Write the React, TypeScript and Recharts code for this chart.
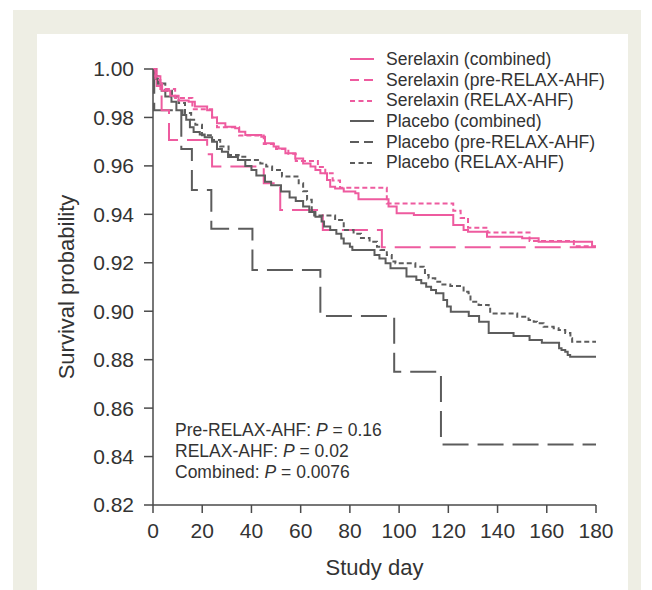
import React from 'react';
import { LineChart, Line, XAxis, YAxis } from 'recharts';

// ---- Data ----
const DAY_TICKS = [0, 20, 40, 60, 80, 100, 120, 140, 160, 180];
const PROB_TICKS = [0.82, 0.84, 0.86, 0.88, 0.9, 0.92, 0.94, 0.96, 0.98, 1.0];

const SERIES_NAMES = [
  'Serelaxin (combined)',
  'Serelaxin (pre-RELAX-AHF)',
  'Serelaxin (RELAX-AHF)',
  'Placebo (combined)',
  'Placebo (pre-RELAX-AHF)',
  'Placebo (RELAX-AHF)',
];

// [study day, survival probability]
const serelaxinCombined: [number, number][] = [
  [0, 1.0], [1, 0.997], [3, 0.994], [3.7, 0.991], [7, 0.989], [10.4, 0.987], [14.5, 0.9865],
  [17, 0.9845], [22, 0.983], [24, 0.98], [26, 0.9776], [29.4, 0.9762], [33.4, 0.9755],
  [35, 0.9741], [37.5, 0.9728], [44, 0.972], [45.5, 0.9693], [49, 0.968], [51, 0.9672],
  [53.8, 0.9652], [57.8, 0.963], [61, 0.961], [64, 0.9597], [66, 0.9583], [68, 0.957],
  [70.7, 0.9542], [72, 0.9514], [74, 0.9507], [77.5, 0.9494], [82.2, 0.9487], [83.5, 0.9462],
  [94.4, 0.9462], [95.7, 0.9432], [99, 0.9404], [106, 0.9397], [122, 0.9356], [126.2, 0.9335],
  [128, 0.9328], [135.7, 0.9307], [150, 0.9301], [156.7, 0.9287], [178.4, 0.9266], [180, 0.9266],
];

const serelaxinPre: [number, number][] = [
  [0, 1.0], [1.5, 0.993], [3.5, 0.983], [6.5, 0.9707], [22, 0.9648], [24, 0.9597],
  [45, 0.9528], [51.7, 0.9418], [69, 0.9335], [93, 0.9264], [180, 0.9264],
];

const serelaxinRelax: [number, number][] = [
  [0, 1.0], [1, 0.9955], [3, 0.9917], [9, 0.988], [16, 0.9834], [24, 0.98], [26, 0.976],
  [35, 0.9725], [45, 0.969], [50, 0.967], [55, 0.965], [58, 0.962], [67, 0.9595], [70, 0.957],
  [73, 0.954], [76, 0.951], [95, 0.9445], [122, 0.9415], [125, 0.9385], [128, 0.9345],
  [136, 0.9325], [153, 0.929], [171, 0.9268], [180, 0.9268],
];

const placeboCombined: [number, number][] = [
  [0, 1.0], [0.8, 0.996], [2, 0.994], [3.5, 0.991], [5, 0.9886], [7.5, 0.9865], [9.5, 0.983],
  [12, 0.981], [13.5, 0.979], [15, 0.976], [16.5, 0.974], [19, 0.973], [21, 0.9718], [24, 0.97],
  [26, 0.967], [28, 0.9658], [30.5, 0.9637], [34.5, 0.9624], [37.5, 0.96], [40, 0.9583],
  [42, 0.956], [45.5, 0.9535], [48, 0.952], [52, 0.9494], [55.5, 0.947], [58, 0.9455],
  [61, 0.9432], [63.5, 0.941], [66, 0.939], [68.5, 0.937], [69.5, 0.935], [72, 0.9335],
  [74.5, 0.932], [76.5, 0.93], [77.5, 0.928], [80, 0.9266], [81, 0.9253], [90, 0.9232],
  [92, 0.9218], [94.5, 0.9198], [96.5, 0.9177], [103, 0.9143], [107, 0.9129], [109, 0.9115],
  [111, 0.9101], [113, 0.9088], [115, 0.9074], [118, 0.9046], [119.5, 0.9019], [121, 0.8998],
  [128.3, 0.898], [132.5, 0.8957], [136.4, 0.891], [146.5, 0.8898], [153, 0.8881], [158, 0.887],
  [165, 0.8847], [166, 0.884], [167.5, 0.8833], [168.5, 0.8819], [169.5, 0.8812], [180, 0.8812],
];

const placeboPre: [number, number][] = [
  [0, 1.0], [0.5, 0.983], [11.5, 0.967], [15.8, 0.95], [23.7, 0.934], [40.4, 0.917],
  [68, 0.898], [98, 0.875], [117, 0.845], [180, 0.845],
];

const placeboRelax: [number, number][] = [
  [0, 1.0], [1, 0.997], [2.3, 0.994], [5, 0.991], [7.7, 0.9886], [10.4, 0.986], [13, 0.9818],
  [15.5, 0.979], [17.2, 0.977], [19.9, 0.9727], [24, 0.9707], [27.3, 0.968], [30.7, 0.9645],
  [34.8, 0.9638], [37.5, 0.9624], [43.6, 0.961], [46, 0.9597], [48.4, 0.9583], [52.4, 0.9556],
  [59.2, 0.9528], [61, 0.9495], [62.6, 0.946], [64.5, 0.9418], [65.5, 0.9395], [74, 0.9377],
  [77.5, 0.9335], [81.5, 0.932], [84.5, 0.9302], [88, 0.9287], [91, 0.9266], [92.4, 0.9253],
  [95, 0.9232], [97, 0.9205], [98.5, 0.9198], [106.6, 0.9184], [110, 0.9177], [110.5, 0.915],
  [112, 0.9136], [114.7, 0.9122], [116.7, 0.911], [120.8, 0.9104], [126.2, 0.908],
  [128.2, 0.9074], [129, 0.9039], [132.3, 0.9026], [136.4, 0.9019], [137, 0.8991],
  [148, 0.8977], [152.6, 0.8964], [154.7, 0.8957], [156, 0.895], [158.7, 0.8936],
  [162.8, 0.893], [164.8, 0.8922], [167.5, 0.891], [169.6, 0.8888], [170.3, 0.8874], [180, 0.8874],
];

const ANNOTATIONS = [
  { label: 'Pre-RELAX-AHF', p: '0.16' },
  { label: 'RELAX-AHF', p: '0.02' },
  { label: 'Combined', p: '0.0076' },
];

// ---- Styling ----
const PINK = '#ee5b9f';
const GRAY = '#5c5c5c';
const AXIS = '#4a4a4a';
const TEXT = '#333333';
const FONT = '"Liberation Sans", Arial, Helvetica, sans-serif';

const SOLID = undefined;
const LONG_DASH = '26 9';
const SHORT_DASH = '5 3';

const toData = (pts: [number, number][]) => pts.map(([d, v]) => ({ d, v }));

const SERIES = [
  { name: SERIES_NAMES[4], points: placeboPre, color: GRAY, dash: LONG_DASH, legendDash: '9 5' },
  { name: SERIES_NAMES[1], points: serelaxinPre, color: PINK, dash: LONG_DASH, legendDash: '9 5' },
  { name: SERIES_NAMES[5], points: placeboRelax, color: GRAY, dash: SHORT_DASH, legendDash: '5 3.5' },
  { name: SERIES_NAMES[3], points: placeboCombined, color: GRAY, dash: SOLID, legendDash: undefined },
  { name: SERIES_NAMES[2], points: serelaxinRelax, color: PINK, dash: SHORT_DASH, legendDash: '5 3.5' },
  { name: SERIES_NAMES[0], points: serelaxinCombined, color: PINK, dash: SOLID, legendDash: undefined },
];

const LEGEND_ORDER = [5, 1, 4, 3, 0, 2];

export default function App() {
  return (
    <div
      style={{
        position: 'absolute',
        left: 0,
        top: 0,
        width: 652,
        height: 590,
        background: '#ffffff',
        fontFamily: FONT,
        overflow: 'hidden',
      }}
    >
      <div style={{ position: 'absolute', left: 13, top: 10, width: 628, height: 580, background: '#eeeee4' }} />
      <div style={{ position: 'absolute', left: 37, top: 34, width: 591, height: 556, background: '#ffffff' }} />

      <div style={{ position: 'absolute', left: 0, top: 0 }}>
        <LineChart
          width={652}
          height={590}
          margin={{ top: 69, right: 56, bottom: 15, left: 53 }}
          style={{ fontFamily: FONT }}
        >
          <XAxis
            dataKey="d"
            type="number"
            domain={[0, 180]}
            ticks={DAY_TICKS}
            allowDuplicatedCategory={false}
            height={70}
            tickSize={8}
            tickMargin={10}
            stroke={AXIS}
            strokeWidth={1.5}
            tick={{ fontSize: 21, fill: TEXT }}
            label={{
              value: 'Study day',
              position: 'insideBottom',
              offset: 0,
              style: { fontSize: 22, fill: TEXT },
            }}
          />
          <YAxis
            dataKey="v"
            type="number"
            domain={[0.82, 1.0]}
            ticks={PROB_TICKS}
            width={100}
            tickSize={9}
            tickMargin={10}
            stroke={AXIS}
            strokeWidth={1.5}
            tickFormatter={(t: number) => t.toFixed(2)}
            tick={{ fontSize: 21, fill: TEXT }}
            label={{
              value: 'Survival probability',
              angle: -90,
              position: 'insideLeft',
              offset: 13,
              style: { fontSize: 22, fill: TEXT, textAnchor: 'middle' },
            }}
          />
          {SERIES.map((s) => (
            <Line
              key={s.name}
              name={s.name}
              data={toData(s.points)}
              dataKey="v"
              type="stepAfter"
              stroke={s.color}
              strokeWidth={2}
              strokeDasharray={s.dash}
              dot={false}
              activeDot={false}
              isAnimationActive={false}
            />
          ))}
        </LineChart>
      </div>

      {/* Legend */}
      <div style={{ position: 'absolute', left: 348, top: 49, fontSize: 17.5, color: TEXT }}>
        {LEGEND_ORDER.map((i) => {
          const s = SERIES[i];
          return (
            <div key={s.name} style={{ display: 'flex', alignItems: 'center', height: 20.7 }}>
              <svg width={28} height={20} style={{ marginRight: 10 }}>
                <line x1={2} y1={10} x2={26} y2={10} stroke={s.color} strokeWidth={2} strokeDasharray={s.legendDash} />
              </svg>
              <span style={{ whiteSpace: 'nowrap', lineHeight: '20.7px' }}>{s.name}</span>
            </div>
          );
        })}
      </div>

      {/* P-value annotations */}
      <div style={{ position: 'absolute', left: 175, top: 419.5, fontSize: 17.5, color: TEXT }}>
        {ANNOTATIONS.map((a) => (
          <div key={a.label} style={{ height: 21.3, lineHeight: '21.3px', whiteSpace: 'nowrap' }}>
            {a.label}: <i>P</i> = {a.p}
          </div>
        ))}
      </div>
    </div>
  );
}
